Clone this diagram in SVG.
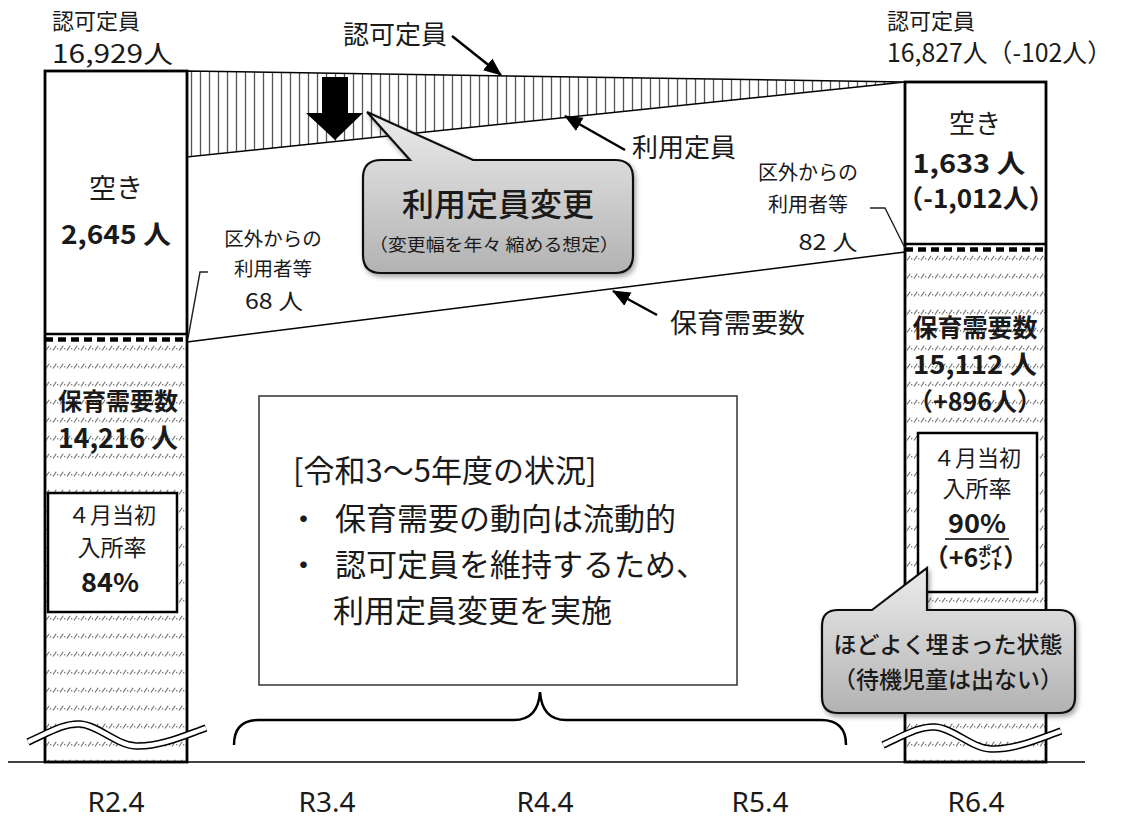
<svg xmlns="http://www.w3.org/2000/svg" width="1121" height="822" viewBox="0 0 1121 822">
<defs>
<style>
text{font-family:"Noto Sans CJK JP","Noto Sans",sans-serif;fill:#1a1a1a}
.b{font-weight:bold}
.m{font-weight:500}
.c{text-anchor:middle}
.ax{font-family:"Noto Sans","Open Sans",sans-serif;font-size:28px;text-anchor:middle}
.bar{fill:none;stroke:#000;stroke-width:2.8}
.thin{fill:none;stroke:#222;stroke-width:1.4}
.arr{fill:none;stroke:#000;stroke-width:2.5;marker-end:url(#ah)}
.call{fill:url(#cg);stroke:#111;stroke-width:2.2;filter:url(#sh)}
</style>
<pattern id="vl" patternUnits="userSpaceOnUse" x="187" y="0" width="9" height="20"><rect width="9" height="20" fill="#fff"/><line x1="4.5" y1="0" x2="4.5" y2="20" stroke="#555" stroke-width="1.3"/></pattern>
<pattern id="dh" patternUnits="userSpaceOnUse" x="45" y="0" width="7" height="18"><rect width="7" height="18" fill="#fff"/><line x1="1" y1="8.5" x2="4.2" y2="3.8" stroke="#6e6e6e" stroke-width="1.1"/><circle cx="5.7" cy="6.8" r="0.75" fill="#6e6e6e"/></pattern>
<marker id="ah" markerUnits="userSpaceOnUse" markerWidth="19" markerHeight="16" refX="17" refY="7.5" orient="auto" viewBox="0 0 19 15"><path d="M0,0 L18,7.5 L0,15 Z" fill="#000"/></marker>
<linearGradient id="cg" x1="0" y1="0" x2="0" y2="1"><stop offset="0" stop-color="#ececec"/><stop offset="1" stop-color="#b2b2b2"/></linearGradient>
<filter id="sh" x="-10%" y="-10%" width="130%" height="140%"><feDropShadow dx="2" dy="3" stdDeviation="2.5" flood-color="#000" flood-opacity="0.35"/></filter>
<path id="wave" d="M28,742 C48,733 64,723 80,724 C98,725 116,745 136,746 C160,747 186,735 206,728" fill="none"/>
</defs>
<rect width="1121" height="822" fill="#fff"/>

<g id="capacity-band">
<polygon points="187,71 905,82 187,157" fill="url(#vl)" stroke="#000" stroke-width="1.5"/>
<polygon points="322,77 348,77 348,113 363,113 335,140 306,113 322,113" fill="#000"/>
</g>

<g id="bar-r2">
<rect x="45" y="342" width="142" height="420" fill="url(#dh)"/>
<rect x="45" y="71" width="142" height="263" fill="#fff"/>
<rect x="45" y="334" width="142" height="8" fill="#fff"/>
<line x1="45" y1="339.5" x2="187" y2="339.5" stroke="#000" stroke-width="4.5" stroke-dasharray="8 5"/>
<line x1="45" y1="334" x2="187" y2="334" stroke="#000" stroke-width="2.5"/>
<rect x="45" y="71" width="142" height="691" class="bar"/>
<text x="116" y="198" class="c" font-size="27">空き</text>
<text x="116" y="244" class="c b" font-size="26" textLength="110" lengthAdjust="spacingAndGlyphs">2,645 人</text>
<text x="118" y="410" class="c b" font-size="24">保育需要数</text>
<text x="118" y="448" class="c b" font-size="27" textLength="120" lengthAdjust="spacingAndGlyphs">14,216 人</text>
<rect x="48" y="493" width="129" height="119" fill="#fff" stroke="#000" stroke-width="2.5"/>
<text x="112" y="523" class="c" font-size="22">４月当初</text>
<text x="112" y="556" class="c" font-size="23">入所率</text>
<text x="110" y="592" class="c b" font-size="26" textLength="58" lengthAdjust="spacingAndGlyphs">84%</text>
<use href="#wave" stroke="#000" stroke-width="7.5"/>
<use href="#wave" stroke="#fff" stroke-width="4.5"/>
</g>

<g id="bar-r6">
<rect x="905" y="252" width="141" height="510" fill="url(#dh)"/>
<rect x="905" y="82" width="141" height="162" fill="#fff"/>
<rect x="905" y="244" width="141" height="8" fill="#fff"/>
<line x1="905" y1="249.5" x2="1046" y2="249.5" stroke="#000" stroke-width="4.5" stroke-dasharray="8 5"/>
<line x1="905" y1="244" x2="1046" y2="244" stroke="#000" stroke-width="2.5"/>
<rect x="905" y="82" width="141" height="680" class="bar"/>
<text x="975" y="133" class="c" font-size="26">空き</text>
<text x="969" y="173" class="c b" font-size="26" textLength="113" lengthAdjust="spacingAndGlyphs">1,633 人</text>
<text x="976" y="208" class="c b" font-size="26">（-1,012人）</text>
<text x="975" y="337" class="c b" font-size="25">保育需要数</text>
<text x="975" y="374" class="c b" font-size="26" textLength="124" lengthAdjust="spacingAndGlyphs">15,112 人</text>
<text x="975" y="411" class="c b" font-size="25">（+896人）</text>
<rect x="918" y="433" width="119" height="159" fill="#fff" stroke="#000" stroke-width="2.5"/>
<text x="977" y="466" class="c" font-size="22">４月当初</text>
<text x="977" y="497" class="c" font-size="23">入所率</text>
<text x="977" y="533" class="c b" font-size="26" textLength="58" lengthAdjust="spacingAndGlyphs">90%</text>
<line x1="945" y1="539" x2="1009" y2="539" stroke="#000" stroke-width="1.5"/>
<text x="976" y="567" class="c b" font-size="25">（+6㌽）</text>
<g transform="translate(855,3)">
<use href="#wave" stroke="#000" stroke-width="7.5"/>
<use href="#wave" stroke="#fff" stroke-width="4.5"/>
</g>
</g>

<g id="connectors">
<line x1="187" y1="342" x2="905" y2="252" stroke="#000" stroke-width="1.5"/>
<line x1="8" y1="762" x2="1085" y2="762" stroke="#000" stroke-width="1.5"/>
<line x1="452" y1="36" x2="501" y2="75" class="arr"/>
<line x1="625" y1="150" x2="565" y2="116" class="arr"/>
<line x1="657" y1="315" x2="613" y2="291" class="arr"/>
<polyline points="208,272 200,272 188,338" class="thin"/>
<polyline points="870,208 885,208 905,248" class="thin"/>
<path d="M234,745 Q234,720 259,720 L514,720 Q538,720 540,692 Q542,720 566,720 L821,720 Q846,720 846,745" fill="none" stroke="#000" stroke-width="2.5"/>
</g>

<g id="labels">
<text x="52" y="29" font-size="22">認可定員</text>
<text x="52" y="63" font-size="25" textLength="121" lengthAdjust="spacingAndGlyphs">16,929人</text>
<text x="887" y="29" font-size="22">認可定員</text>
<text x="887" y="62" font-size="25" textLength="225" lengthAdjust="spacingAndGlyphs">16,827人（-102人）</text>
<text x="343" y="44" font-size="26">認可定員</text>
<text x="632" y="157" font-size="26">利用定員</text>
<text x="670" y="333" font-size="27">保育需要数</text>
<text x="273" y="246" class="c" font-size="19.5">区外からの</text>
<text x="273" y="276" class="c" font-size="19.5">利用者等</text>
<text x="274" y="309" class="c" font-size="22" textLength="58" lengthAdjust="spacingAndGlyphs">68 人</text>
<text x="808" y="180" class="c" font-size="20">区外からの</text>
<text x="808" y="212" class="c" font-size="20">利用者等</text>
<text x="828" y="250" class="c" font-size="22" textLength="59" lengthAdjust="spacingAndGlyphs">82 人</text>
</g>

<g id="status-box">
<rect x="259" y="396" width="478" height="289" fill="#fff" stroke="#333" stroke-width="1.5"/>
<text x="293" y="482" font-size="31">[令和3～5年度の状況]</text>
<text x="288" y="530" font-size="31">・</text>
<text x="335" y="530" font-size="31">保育需要の動向は流動的</text>
<text x="288" y="576" font-size="31">・</text>
<text x="335" y="576" font-size="31">認可定員を維持するため、</text>
<text x="333" y="622" font-size="31">利用定員変更を実施</text>
</g>

<g id="callout-change">
<path class="call" d="M381,160 L410,160 L367,112 L473,160 L615,160 Q633,160 633,178 L633,255 Q633,273 615,273 L381,273 Q363,273 363,255 L363,178 Q363,160 381,160 Z"/>
<text x="498" y="216" class="c m" font-size="32">利用定員変更</text>
<text x="494" y="251" class="c" font-size="17.5" textLength="250" lengthAdjust="spacingAndGlyphs">（変更幅を年々 縮める想定）</text>
</g>

<g id="callout-full">
<path class="call" d="M838,610 L872,610 L927,568 L927,610 L1059,610 Q1075,610 1075,626 L1075,697 Q1075,713 1059,713 L838,713 Q822,713 822,697 L822,626 Q822,610 838,610 Z"/>
<text x="948" y="653" class="c m" font-size="23">ほどよく埋まった状態</text>
<text x="948" y="688" class="c m" font-size="23">（待機児童は出ない）</text>
</g>

<g id="axis">
<text x="116" y="812" class="ax">R2.4</text>
<text x="327" y="812" class="ax">R3.4</text>
<text x="545" y="812" class="ax">R4.4</text>
<text x="760" y="812" class="ax">R5.4</text>
<text x="976" y="812" class="ax">R6.4</text>
</g>
</svg>
